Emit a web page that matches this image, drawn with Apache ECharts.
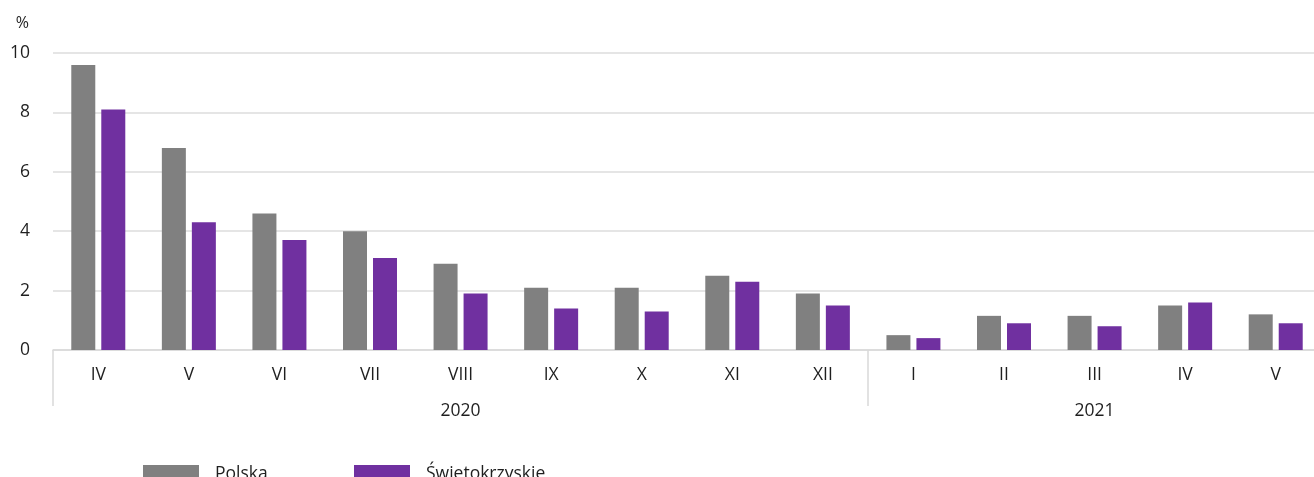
<!DOCTYPE html>
<html>
<head>
<meta charset="utf-8">
<script src="https://cdn.jsdelivr.net/npm/echarts@6/dist/echarts.min.js"></script>
<style>
  html, body { margin: 0; padding: 0; background: #fff; }
  #chart { width: 1314px; height: 477px; }
</style>
</head>
<body>
<div id="chart"></div>
<script>
const months = ['IV', 'V', 'VI', 'VII', 'VIII', 'IX', 'X', 'XI', 'XII', 'I', 'II', 'III', 'IV', 'V']
const years = ['2020', '2021']
const yearSpans = [9, 5]
const polska = [9.6, 6.8, 4.6, 4.0, 2.9, 2.1, 2.1, 2.5, 1.9, 0.5, 1.15, 1.15, 1.5, 1.2]
const swietokrzyskie = [8.1, 4.3, 3.7, 3.1, 1.9, 1.4, 1.3, 2.3, 1.5, 0.4, 0.9, 0.8, 1.6, 0.9]
const yTicks = [0, 2, 4, 6, 8, 10]

const colors = ['#808080', '#7030a0']
const font = 'Open Sans'
const fontSize = 17.5
const textColor = '#1f1f1f'

// year label sits under the middle month of its span; separators at span starts
const yearLabels = []
const spanStarts = []
let start = 0
years.forEach((y, i) => {
  spanStarts.push(start)
  for (let k = 0; k < yearSpans[i]; k++) yearLabels.push(k === Math.floor(yearSpans[i] / 2) ? y : '')
  start += yearSpans[i]
})

const chart = echarts.init(document.getElementById('chart'))

const legendItem = (name, left) => ({
  data: [name],
  left: left,
  top: 465,
  padding: 0,
  itemWidth: 56,
  itemHeight: 18,
  icon: 'rect',
  textStyle: { fontFamily: font, fontSize: fontSize, lineHeight: 18, color: textColor, padding: [0, 0, 0, 11] }
})

chart.setOption({
  animation: false,
  textStyle: { fontFamily: font, color: textColor },
  grid: { left: 53, top: 53, width: 1268, height: 297, containLabel: false, outerBoundsMode: 'none' },
  legend: [legendItem('Polska', 143), legendItem('Świętokrzyskie', 354)],
  xAxis: [
    {
      type: 'category',
      data: months,
      position: 'bottom',
      axisLine: { lineStyle: { color: '#d9d9d9', width: 1.5 } },
      axisTick: {
        show: true,
        alignWithLabel: false,
        interval: (i) => spanStarts.includes(i),
        length: 56,
        lineStyle: { color: '#d9d9d9', width: 1.5 }
      },
      axisLabel: { interval: 0, margin: 16, fontSize: fontSize, color: textColor, fontFamily: font }
    },
    {
      type: 'category',
      data: months,
      position: 'bottom',
      axisLine: { show: false },
      axisTick: { show: false },
      axisLabel: {
        interval: 0,
        margin: 52,
        fontSize: fontSize,
        color: textColor,
        fontFamily: font,
        formatter: (v, i) => yearLabels[i]
      }
    }
  ],
  yAxis: {
    type: 'value',
    min: yTicks[0],
    max: yTicks[yTicks.length - 1],
    interval: yTicks[1] - yTicks[0],
    name: '%',
    nameLocation: 'end',
    nameGap: 22,
    nameTextStyle: { fontFamily: font, fontSize: 16, color: textColor, align: 'right', padding: [0, 24, 0, 0] },
    axisLine: { show: false },
    axisTick: { show: false },
    axisLabel: { margin: 23, fontSize: fontSize, color: textColor, fontFamily: font },
    splitLine: { lineStyle: { color: '#dcdcdc', width: 1.5 } }
  },
  series: [
    {
      name: 'Polska',
      type: 'bar',
      data: polska,
      barWidth: 24,
      barGap: '25%',
      itemStyle: { color: colors[0] }
    },
    {
      name: 'Świętokrzyskie',
      type: 'bar',
      data: swietokrzyskie,
      barWidth: 24,
      barGap: '25%',
      itemStyle: { color: colors[1] }
    }
  ]
})
</script>
</body>
</html>
